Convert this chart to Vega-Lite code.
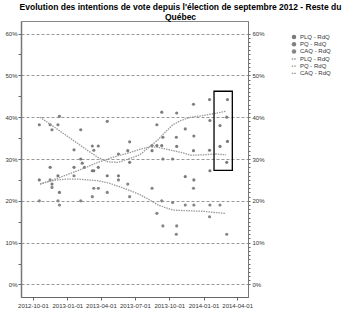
{
  "$schema": "https://vega.github.io/schema/vega-lite/v6.json",
  "width": 227,
  "height": 276,
  "padding": {"left": 4, "top": 3, "right": 0, "bottom": 0},
  "config": {
    "font": "Liberation Sans",
    "view": {"stroke": "#888", "strokeWidth": 1},
    "axis": {"labelFont": "Liberation Sans", "labelFontSize": 6, "labelColor": "#333", "domainColor": "#666", "tickColor": "#666", "title": null},
    "legend": {"labelFont": "Liberation Sans", "labelFontSize": 6, "labelColor": "#333", "title": null, "padding": 0, "rowPadding": 1.2, "labelOffset": 3, "symbolSize": 20}
  },
  "title": {
    "text": ["Evolution des intentions de vote depuis l'élection de septembre 2012 - Reste du", "Québec"],
    "fontSize": 8.5, "fontWeight": "bold", "color": "#000", "font": "Liberation Sans",
    "anchor": "middle", "frame": "group", "dx": 46, "offset": 0, "lineHeight": 9.5
  },
  "datasets": {
    "polls": [
      {"date": "2012-10-18", "party": "PQ - RdQ", "value": 38.2},
      {"date": "2012-10-18", "party": "PLQ - RdQ", "value": 25},
      {"date": "2012-10-18", "party": "CAQ - RdQ", "value": 20},
      {"date": "2012-11-16", "party": "PQ - RdQ", "value": 38.2},
      {"date": "2012-11-16", "party": "PLQ - RdQ", "value": 28},
      {"date": "2012-11-16", "party": "CAQ - RdQ", "value": 25},
      {"date": "2012-11-21", "party": "PQ - RdQ", "value": 37},
      {"date": "2012-11-21", "party": "PLQ - RdQ", "value": 24},
      {"date": "2012-11-21", "party": "CAQ - RdQ", "value": 23.2},
      {"date": "2012-12-07", "party": "PQ - RdQ", "value": 38.2},
      {"date": "2012-12-07", "party": "PLQ - RdQ", "value": 26},
      {"date": "2012-12-07", "party": "CAQ - RdQ", "value": 20},
      {"date": "2012-12-11", "party": "PQ - RdQ", "value": 40.2},
      {"date": "2012-12-11", "party": "PLQ - RdQ", "value": 22},
      {"date": "2012-12-11", "party": "CAQ - RdQ", "value": 19},
      {"date": "2013-01-19", "party": "PQ - RdQ", "value": 32.2},
      {"date": "2013-01-19", "party": "PLQ - RdQ", "value": 28},
      {"date": "2013-01-19", "party": "CAQ - RdQ", "value": 26},
      {"date": "2013-02-06", "party": "PQ - RdQ", "value": 37},
      {"date": "2013-02-06", "party": "PLQ - RdQ", "value": 30},
      {"date": "2013-02-06", "party": "CAQ - RdQ", "value": 20},
      {"date": "2013-02-10", "party": "PQ - RdQ", "value": 29},
      {"date": "2013-02-16", "party": "PLQ - RdQ", "value": 28},
      {"date": "2013-03-09", "party": "PQ - RdQ", "value": 33.1},
      {"date": "2013-03-09", "party": "PLQ - RdQ", "value": 27.2},
      {"date": "2013-03-09", "party": "CAQ - RdQ", "value": 21},
      {"date": "2013-03-13", "party": "PQ - RdQ", "value": 32.1},
      {"date": "2013-03-13", "party": "PLQ - RdQ", "value": 27.2},
      {"date": "2013-03-13", "party": "CAQ - RdQ", "value": 23},
      {"date": "2013-03-25", "party": "PQ - RdQ", "value": 33.1},
      {"date": "2013-03-25", "party": "PLQ - RdQ", "value": 28},
      {"date": "2013-03-25", "party": "CAQ - RdQ", "value": 23},
      {"date": "2013-04-18", "party": "PQ - RdQ", "value": 39},
      {"date": "2013-04-18", "party": "PLQ - RdQ", "value": 26},
      {"date": "2013-04-18", "party": "CAQ - RdQ", "value": 22},
      {"date": "2013-05-18", "party": "PQ - RdQ", "value": 31.2},
      {"date": "2013-05-18", "party": "PLQ - RdQ", "value": 26},
      {"date": "2013-05-18", "party": "CAQ - RdQ", "value": 25},
      {"date": "2013-06-12", "party": "PQ - RdQ", "value": 32},
      {"date": "2013-06-12", "party": "CAQ - RdQ", "value": 24},
      {"date": "2013-06-17", "party": "PQ - RdQ", "value": 34.1},
      {"date": "2013-06-17", "party": "PLQ - RdQ", "value": 29.2},
      {"date": "2013-06-17", "party": "CAQ - RdQ", "value": 21},
      {"date": "2013-08-16", "party": "PQ - RdQ", "value": 33.2},
      {"date": "2013-08-16", "party": "PLQ - RdQ", "value": 32},
      {"date": "2013-08-16", "party": "CAQ - RdQ", "value": 23},
      {"date": "2013-08-29", "party": "PQ - RdQ", "value": 38.2},
      {"date": "2013-08-29", "party": "PLQ - RdQ", "value": 33.2},
      {"date": "2013-08-29", "party": "CAQ - RdQ", "value": 17},
      {"date": "2013-09-11", "party": "PQ - RdQ", "value": 41.2},
      {"date": "2013-09-11", "party": "PLQ - RdQ", "value": 33.2},
      {"date": "2013-09-11", "party": "CAQ - RdQ", "value": 20},
      {"date": "2013-09-14", "party": "PQ - RdQ", "value": 35.2},
      {"date": "2013-09-14", "party": "PLQ - RdQ", "value": 30},
      {"date": "2013-09-14", "party": "CAQ - RdQ", "value": 14},
      {"date": "2013-10-10", "party": "PLQ - RdQ", "value": 30},
      {"date": "2013-10-10", "party": "CAQ - RdQ", "value": 19.6},
      {"date": "2013-10-20", "party": "PQ - RdQ", "value": 35.2},
      {"date": "2013-10-20", "party": "CAQ - RdQ", "value": 12},
      {"date": "2013-10-21", "party": "PQ - RdQ", "value": 41},
      {"date": "2013-10-21", "party": "PLQ - RdQ", "value": 33},
      {"date": "2013-10-21", "party": "CAQ - RdQ", "value": 14},
      {"date": "2013-11-13", "party": "PQ - RdQ", "value": 37.2},
      {"date": "2013-11-13", "party": "PLQ - RdQ", "value": 25.8},
      {"date": "2013-11-13", "party": "CAQ - RdQ", "value": 19},
      {"date": "2013-12-05", "party": "PQ - RdQ", "value": 43.1},
      {"date": "2013-12-05", "party": "PLQ - RdQ", "value": 32},
      {"date": "2013-12-05", "party": "CAQ - RdQ", "value": 23},
      {"date": "2013-12-06", "party": "PQ - RdQ", "value": 35.5},
      {"date": "2013-12-06", "party": "PLQ - RdQ", "value": 25},
      {"date": "2013-12-06", "party": "CAQ - RdQ", "value": 19},
      {"date": "2014-01-17", "party": "PQ - RdQ", "value": 44.2},
      {"date": "2014-01-17", "party": "PLQ - RdQ", "value": 32.1},
      {"date": "2014-01-17", "party": "CAQ - RdQ", "value": 16.2},
      {"date": "2014-01-18", "party": "PQ - RdQ", "value": 39.2},
      {"date": "2014-01-18", "party": "PLQ - RdQ", "value": 27.2},
      {"date": "2014-01-18", "party": "CAQ - RdQ", "value": 19},
      {"date": "2014-02-14", "party": "PQ - RdQ", "value": 38},
      {"date": "2014-02-14", "party": "PLQ - RdQ", "value": 33},
      {"date": "2014-02-14", "party": "CAQ - RdQ", "value": 19},
      {"date": "2014-03-04", "party": "PQ - RdQ", "value": 40},
      {"date": "2014-03-04", "party": "PLQ - RdQ", "value": 29.2},
      {"date": "2014-03-04", "party": "CAQ - RdQ", "value": 12},
      {"date": "2014-03-06", "party": "PQ - RdQ", "value": 44.2},
      {"date": "2014-03-06", "party": "PLQ - RdQ", "value": 34.2}
    ],
    "trend": [
      {"date": "2012-10-20", "series": "PLQ - RdQ ", "value": 24},
      {"date": "2012-11-10", "series": "PLQ - RdQ ", "value": 24.6},
      {"date": "2012-12-07", "series": "PLQ - RdQ ", "value": 25.4},
      {"date": "2013-01-02", "series": "PLQ - RdQ ", "value": 26.3},
      {"date": "2013-01-29", "series": "PLQ - RdQ ", "value": 27.2},
      {"date": "2013-02-25", "series": "PLQ - RdQ ", "value": 28.2},
      {"date": "2013-03-24", "series": "PLQ - RdQ ", "value": 29.2},
      {"date": "2013-04-20", "series": "PLQ - RdQ ", "value": 30},
      {"date": "2013-05-17", "series": "PLQ - RdQ ", "value": 30.8},
      {"date": "2013-06-20", "series": "PLQ - RdQ ", "value": 31.6},
      {"date": "2013-07-14", "series": "PLQ - RdQ ", "value": 32.3},
      {"date": "2013-08-10", "series": "PLQ - RdQ ", "value": 32.9},
      {"date": "2013-09-01", "series": "PLQ - RdQ ", "value": 32.8},
      {"date": "2013-09-20", "series": "PLQ - RdQ ", "value": 32.4},
      {"date": "2013-10-11", "series": "PLQ - RdQ ", "value": 32},
      {"date": "2013-11-01", "series": "PLQ - RdQ ", "value": 31.6},
      {"date": "2013-11-28", "series": "PLQ - RdQ ", "value": 30.9},
      {"date": "2013-12-31", "series": "PLQ - RdQ ", "value": 31},
      {"date": "2014-02-01", "series": "PLQ - RdQ ", "value": 31.2},
      {"date": "2014-03-02", "series": "PLQ - RdQ ", "value": 31},
      {"date": "2012-10-20", "series": "PQ - RdQ ", "value": 40},
      {"date": "2012-11-10", "series": "PQ - RdQ ", "value": 38.7},
      {"date": "2012-12-07", "series": "PQ - RdQ ", "value": 37},
      {"date": "2013-01-02", "series": "PQ - RdQ ", "value": 35.4},
      {"date": "2013-01-29", "series": "PQ - RdQ ", "value": 33.7},
      {"date": "2013-02-25", "series": "PQ - RdQ ", "value": 32},
      {"date": "2013-03-24", "series": "PQ - RdQ ", "value": 30.4},
      {"date": "2013-04-20", "series": "PQ - RdQ ", "value": 29.3},
      {"date": "2013-05-17", "series": "PQ - RdQ ", "value": 29.2},
      {"date": "2013-06-20", "series": "PQ - RdQ ", "value": 30.2},
      {"date": "2013-07-14", "series": "PQ - RdQ ", "value": 31},
      {"date": "2013-08-10", "series": "PQ - RdQ ", "value": 33},
      {"date": "2013-09-01", "series": "PQ - RdQ ", "value": 34.6},
      {"date": "2013-09-20", "series": "PQ - RdQ ", "value": 36.4},
      {"date": "2013-10-11", "series": "PQ - RdQ ", "value": 38.2},
      {"date": "2013-11-01", "series": "PQ - RdQ ", "value": 39.2},
      {"date": "2013-11-28", "series": "PQ - RdQ ", "value": 40},
      {"date": "2013-12-31", "series": "PQ - RdQ ", "value": 40.4},
      {"date": "2014-02-01", "series": "PQ - RdQ ", "value": 40.9},
      {"date": "2014-03-02", "series": "PQ - RdQ ", "value": 41.4},
      {"date": "2012-10-20", "series": "CAQ - RdQ ", "value": 24},
      {"date": "2012-11-10", "series": "CAQ - RdQ ", "value": 24.6},
      {"date": "2012-12-07", "series": "CAQ - RdQ ", "value": 25},
      {"date": "2013-01-02", "series": "CAQ - RdQ ", "value": 25.2},
      {"date": "2013-01-29", "series": "CAQ - RdQ ", "value": 25.2},
      {"date": "2013-02-25", "series": "CAQ - RdQ ", "value": 25},
      {"date": "2013-03-24", "series": "CAQ - RdQ ", "value": 24.8},
      {"date": "2013-04-20", "series": "CAQ - RdQ ", "value": 24.3},
      {"date": "2013-05-17", "series": "CAQ - RdQ ", "value": 23.5},
      {"date": "2013-06-20", "series": "CAQ - RdQ ", "value": 22.4},
      {"date": "2013-07-14", "series": "CAQ - RdQ ", "value": 21.5},
      {"date": "2013-08-10", "series": "CAQ - RdQ ", "value": 20.2},
      {"date": "2013-09-01", "series": "CAQ - RdQ ", "value": 19},
      {"date": "2013-09-20", "series": "CAQ - RdQ ", "value": 18.4},
      {"date": "2013-10-11", "series": "CAQ - RdQ ", "value": 17.8},
      {"date": "2013-11-01", "series": "CAQ - RdQ ", "value": 17.7},
      {"date": "2013-11-28", "series": "CAQ - RdQ ", "value": 17.6},
      {"date": "2013-12-31", "series": "CAQ - RdQ ", "value": 17.5},
      {"date": "2014-02-01", "series": "CAQ - RdQ ", "value": 17.2},
      {"date": "2014-03-02", "series": "CAQ - RdQ ", "value": 17}
    ],
    "box": [
      {"date": "2014-01-29", "date2": "2014-03-19", "value": 46.2, "value2": 27.3}
    ]
  },
  "encoding": {
    "x": {
      "field": "date", "type": "temporal",
      "scale": {"type": "utc", "domain": ["2012-08-30", "2014-04-30"]},
      "axis": {"format": "%Y-%m-%d", "tickCount": {"interval": "month", "step": 3}, "labelAngle": 0, "labelOverlap": false, "grid": false, "tickSize": 3, "labelPadding": 2, "domainWidth": 1}
    }
  },
  "layer": [
    {
      "data": {"name": "polls"},
      "mark": {"type": "circle", "size": 10, "opacity": 1},
      "encoding": {
        "y": {
          "field": "value", "type": "quantitative",
          "scale": {"domain": [-3, 63], "nice": false, "zero": false},
          "axis": {
            "orient": "left",
            "values": [0, 5, 10, 15, 20, 25, 30, 35, 40, 45, 50, 55, 60],
            "labelExpr": "datum.value % 10 === 0 ? datum.value + '%' : ''",
            "grid": true,
            "gridDash": [3, 2],
            "gridColor": "#999",
            "gridOpacity": {"condition": {"test": "datum.value % 10 === 0", "value": 1}, "value": 0},
            "tickSize": 3,
            "labelPadding": 1,
            "domainWidth": 1.5,
            "domainColor": "#777"
          }
        },
        "fill": {
          "field": "party", "type": "nominal",
          "scale": {"domain": ["PLQ - RdQ", "PQ - RdQ", "CAQ - RdQ"], "range": ["#7a7a7a", "#7f7f7f", "#858585"]},
          "legend": {"orient": "none", "legendX": 270, "legendY": 13, "symbolType": "circle", "symbolStrokeWidth": 0}
        }
      }
    },
    {
      "data": {"name": "trend"},
      "mark": {"type": "line", "strokeDash": [1.5, 1], "strokeWidth": 1.3},
      "encoding": {
        "y": {
          "field": "value", "type": "quantitative",
          "axis": {
            "orient": "right",
            "values": [0,1,2,3,4,5,6,7,8,9,10,11,12,13,14,15,16,17,18,19,20,21,22,23,24,25,26,27,28,29,30,31,32,33,34,35,36,37,38,39,40,41,42,43,44,45,46,47,48,49,50,51,52,53,54,55,56,57,58,59,60],
            "labelExpr": "datum.value % 10 === 0 ? datum.value + '%' : ''",
            "grid": false,
            "tickSize": 2,
            "labelPadding": 2,
            "domainWidth": 1,
            "domainColor": "#777"
          }
        },
        "stroke": {
          "field": "series", "type": "nominal",
          "scale": {"domain": ["PLQ - RdQ ", "PQ - RdQ ", "CAQ - RdQ "], "range": ["#999", "#999", "#999"]},
          "legend": {"orient": "none", "legendX": 270, "legendY": 35, "symbolType": "stroke", "symbolDash": [1.5, 1], "symbolStrokeWidth": 1.3}
        }
      }
    },
    {
      "data": {"name": "box"},
      "mark": {"type": "rect", "filled": false, "stroke": "#000", "strokeWidth": 1.3},
      "encoding": {
        "x2": {"field": "date2"},
        "y": {"field": "value", "type": "quantitative", "axis": null},
        "y2": {"field": "value2"}
      }
    }
  ],
  "resolve": {"axis": {"y": "independent"}}
}
